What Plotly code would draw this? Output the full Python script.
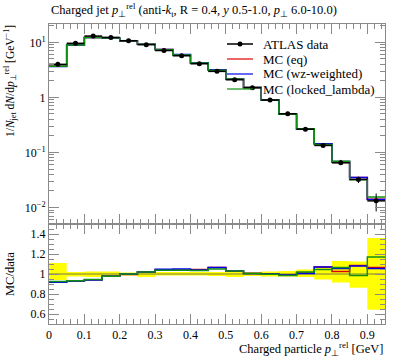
import plotly.graph_objects as go

# ---- data ----
bin_edges = [0.0, 0.05, 0.10, 0.15, 0.20, 0.25, 0.30, 0.35, 0.40, 0.45, 0.50,
             0.55, 0.60, 0.65, 0.70, 0.75, 0.80, 0.85, 0.90, 0.95]
bin_centers = [0.025, 0.075, 0.125, 0.175, 0.225, 0.275, 0.325, 0.375, 0.425, 0.475,
               0.525, 0.575, 0.625, 0.675, 0.725, 0.775, 0.825, 0.875, 0.925]
data_vals = [3.98, 9.6, 13.0, 12.3, 10.7, 9.05, 7.1, 5.7, 4.08, 2.97,
             2.09, 1.50, 0.893, 0.504, 0.265, 0.134, 0.0647, 0.0323, 0.0132]
# relative data uncertainty band (ratio panel), upper and lower
band_up = [1.11, 1.02, 1.025, 1.025, 1.015, 1.02, 1.02, 1.02, 1.02, 1.02,
           1.03, 1.02, 1.025, 1.03, 1.045, 1.078, 1.13, 1.125, 1.36]
band_dn = [0.94, 0.975, 0.97, 0.97, 0.985, 0.97, 0.985, 0.985, 0.985, 0.98,
           0.97, 0.98, 0.975, 0.975, 0.97, 0.946, 0.916, 0.862, 0.643]
# MC / data ratios
ratio_eq = [0.92, 0.93, 0.943, 0.977, 0.995, 1.02, 1.04, 1.04, 1.045, 1.065,
            1.03, 1.005, 1.0, 0.99, 1.01, 1.07, 1.025, 1.085, 1.065]
ratio_wz = [0.918, 0.93, 0.94, 0.977, 1.0, 1.02, 1.047, 1.05, 1.04, 1.065,
            1.03, 1.005, 1.0, 0.99, 1.005, 1.07, 1.055, 1.08, 1.055]
ratio_locked = [0.925, 0.933, 0.945, 0.977, 1.0, 1.02, 1.037, 1.037, 1.035, 1.05,
                1.03, 1.005, 0.998, 0.985, 1.02, 1.045, 1.065, 0.985, 1.17]

legend_labels = ["ATLAS data", "MC (eq)", "MC (wz-weighted)", "MC (locked_lambda)"]
mc_series = [("MC (eq)", ratio_eq, "#e00000"),
             ("MC (wz-weighted)", ratio_wz, "#0000ee"),
             ("MC (locked_lambda)", ratio_locked, "#109010")]

FONT = "Liberation Serif"
AXC = "#8a8a8a"
L, R, T, B, W, H = 49, 12, 24, 34, 397, 358
PW, PH = W - L - R, H - T - B


def px_x(p):
    return (p - L) / PW


def px_y(p):
    return (H - B - p) / PH


def step(vals):
    return list(vals) + [vals[-1]]


fig = go.Figure()

# ---- ratio panel: band ----
fig.add_trace(go.Scatter(x=bin_edges, y=step(band_dn), mode="lines", line=dict(width=0, shape="hv", color="yellow"),
                         xaxis="x", yaxis="y2", showlegend=False, hoverinfo="skip"))
fig.add_trace(go.Scatter(x=bin_edges, y=step(band_up), mode="lines", line=dict(width=0, shape="hv", color="yellow"),
                         fill="tonexty", fillcolor="#ffff00", xaxis="x", yaxis="y2", showlegend=False, hoverinfo="skip"))
fig.add_trace(go.Scatter(x=[bin_edges[0], bin_edges[-1]], y=[1, 1], mode="lines",
                         line=dict(width=1, color="#7a7a40"), xaxis="x", yaxis="y2", showlegend=False, hoverinfo="skip"))

# ---- main + ratio MC lines ----
for name, ratio, col in mc_series:
    mc = [d * r for d, r in zip(data_vals, ratio)]
    fig.add_trace(go.Scatter(x=bin_edges, y=step(mc), mode="lines", name=name,
                             line=dict(color=col, width=1.5, shape="hv"), xaxis="x2", yaxis="y", showlegend=False))
    fig.add_trace(go.Scatter(x=bin_edges, y=step(ratio), mode="lines",
                             line=dict(color=col, width=1.5, shape="hv"), xaxis="x", yaxis="y2", showlegend=False))

# ---- data points ----
err_up = [d * (u - 1) for d, u in zip(data_vals, band_up)]
err_dn = [d * (1 - l) for d, l in zip(data_vals, band_dn)]
fig.add_trace(go.Scatter(x=bin_centers, y=data_vals, mode="markers", name="ATLAS data",
                         marker=dict(color="black", size=5),
                         error_x=dict(type="constant", value=0.025, color="black", thickness=1.5, width=0),
                         error_y=dict(type="data", array=err_up, arrayminus=err_dn, symmetric=False,
                                      color="black", thickness=1, width=0),
                         xaxis="x2", yaxis="y", showlegend=False))

# ---- legend (drawn manually to match spacing) ----
leg_colors = ["black"] + [c for _, _, c in mc_series]
for i, (lab, col) in enumerate(zip(legend_labels, leg_colors)):
    yy = px_y(44 + 15 * i)
    fig.add_shape(type="line", xref="paper", yref="paper", x0=px_x(227), x1=px_x(253), y0=yy, y1=yy,
                  line=dict(color=col, width=1.5 if i == 0 else 1.2))
    if i == 0:
        fig.add_shape(type="circle", xref="paper", yref="paper", x0=px_x(237.5), x1=px_x(242.5),
                      y0=px_y(46.5), y1=px_y(41.5), fillcolor="black", line=dict(color="black", width=0))
    fig.add_annotation(text=lab, xref="paper", yref="paper", x=px_x(261), y=yy, xanchor="left",
                       yanchor="middle", showarrow=False, font=dict(family=FONT, size=13))

axis_common = dict(showline=True, linecolor=AXC, linewidth=1, mirror="allticks", ticks="inside",
                   tickcolor=AXC, showgrid=False, zeroline=False,
                   tickfont=dict(family=FONT, size=12, color="black"))

main_minor = [m * 10.0 ** e for e in (-3, -2, -1, 0, 1) for m in range(2, 10)]

fig.update_layout(
    width=W, height=H,
    margin=dict(l=L, r=R, t=T, b=B),
    paper_bgcolor="white", plot_bgcolor="white",
    font=dict(family=FONT, size=12, color="black"),
    showlegend=False,
    xaxis=dict(domain=[0, 1], anchor="y2", range=[0, 0.95],
               tickvals=[0, 0.1, 0.2, 0.3, 0.4, 0.5, 0.6, 0.7, 0.8, 0.9],
               ticktext=["0", "0.1", "0.2", "0.3", "0.4", "0.5", "0.6", "0.7", "0.8", "0.9"],
               ticklen=10, minor=dict(dtick=0.02, tick0=0, ticks="inside", ticklen=5, tickcolor=AXC),
               **axis_common),
    xaxis2=dict(domain=[0, 1], anchor="y", range=[0, 0.95], matches="x", showticklabels=False,
                tickvals=[0, 0.1, 0.2, 0.3, 0.4, 0.5, 0.6, 0.7, 0.8, 0.9],
                ticklen=10, minor=dict(dtick=0.02, tick0=0, ticks="inside", ticklen=5, tickcolor=AXC),
                **axis_common),
    yaxis=dict(domain=[1 / 3, 1], anchor="x2", type="log", range=[-2.30, 1.333],
               tickvals=[0.01, 0.1, 1, 10],
               ticktext=["10<sup>−2</sup>", "10<sup>−1</sup>", "1", "10<sup>1</sup>"],
               ticklen=10, minor=dict(tickmode="array", tickvals=main_minor, ticks="inside", ticklen=5, tickcolor=AXC),
               **axis_common),
    yaxis2=dict(domain=[0, 1 / 3], anchor="x", range=[0.5, 1.5],
                tickvals=[0.6, 0.8, 1.0, 1.2, 1.4], ticktext=["0.6", "0.8", "1", "1.2", "1.4"],
                ticklen=10, minor=dict(dtick=0.05, tick0=0.5, ticks="inside", ticklen=5, tickcolor=AXC),
                **axis_common),
)

fig.add_annotation(text="Charged jet <i>p</i><sub>⊥</sub><sup>rel</sup> (anti-<i>k</i><sub>t</sub>, R = 0.4, <i>y</i> 0.5-1.0, <i>p</i><sub>⊥</sub> 6.0-10.0)",
                   xref="paper", yref="paper", x=0, y=1, xanchor="left", yanchor="bottom", yshift=3,
                   showarrow=False, font=dict(family=FONT, size=12.5))
fig.add_annotation(text="1/<i>N</i><sub>jet</sub> d<i>N</i>/d<i>p</i><sub>⊥</sub><sup>rel</sup> [GeV<sup>−1</sup>]",
                   xref="paper", yref="paper", x=0, y=1, xanchor="center", yanchor="top", xshift=-39, yshift=1,
                   textangle=-90, showarrow=False, font=dict(family=FONT, size=11.5))
fig.add_annotation(text="MC/data", xref="paper", yref="paper", x=0, y=px_y(274),
                   xanchor="center", yanchor="middle", xshift=-39, textangle=-90, showarrow=False,
                   font=dict(family=FONT, size=12.5))
fig.add_annotation(text="Charged particle <i>p</i><sub>⊥</sub><sup>rel</sup> [GeV]",
                   xref="paper", yref="paper", x=1, y=0, xanchor="right", yanchor="top", yshift=-14,
                   showarrow=False, font=dict(family=FONT, size=12.5))

fig.write_html("out.html", config={"displayModeBar": False},
               post_script="document.body.style.margin='0';document.body.style.padding='0';")
